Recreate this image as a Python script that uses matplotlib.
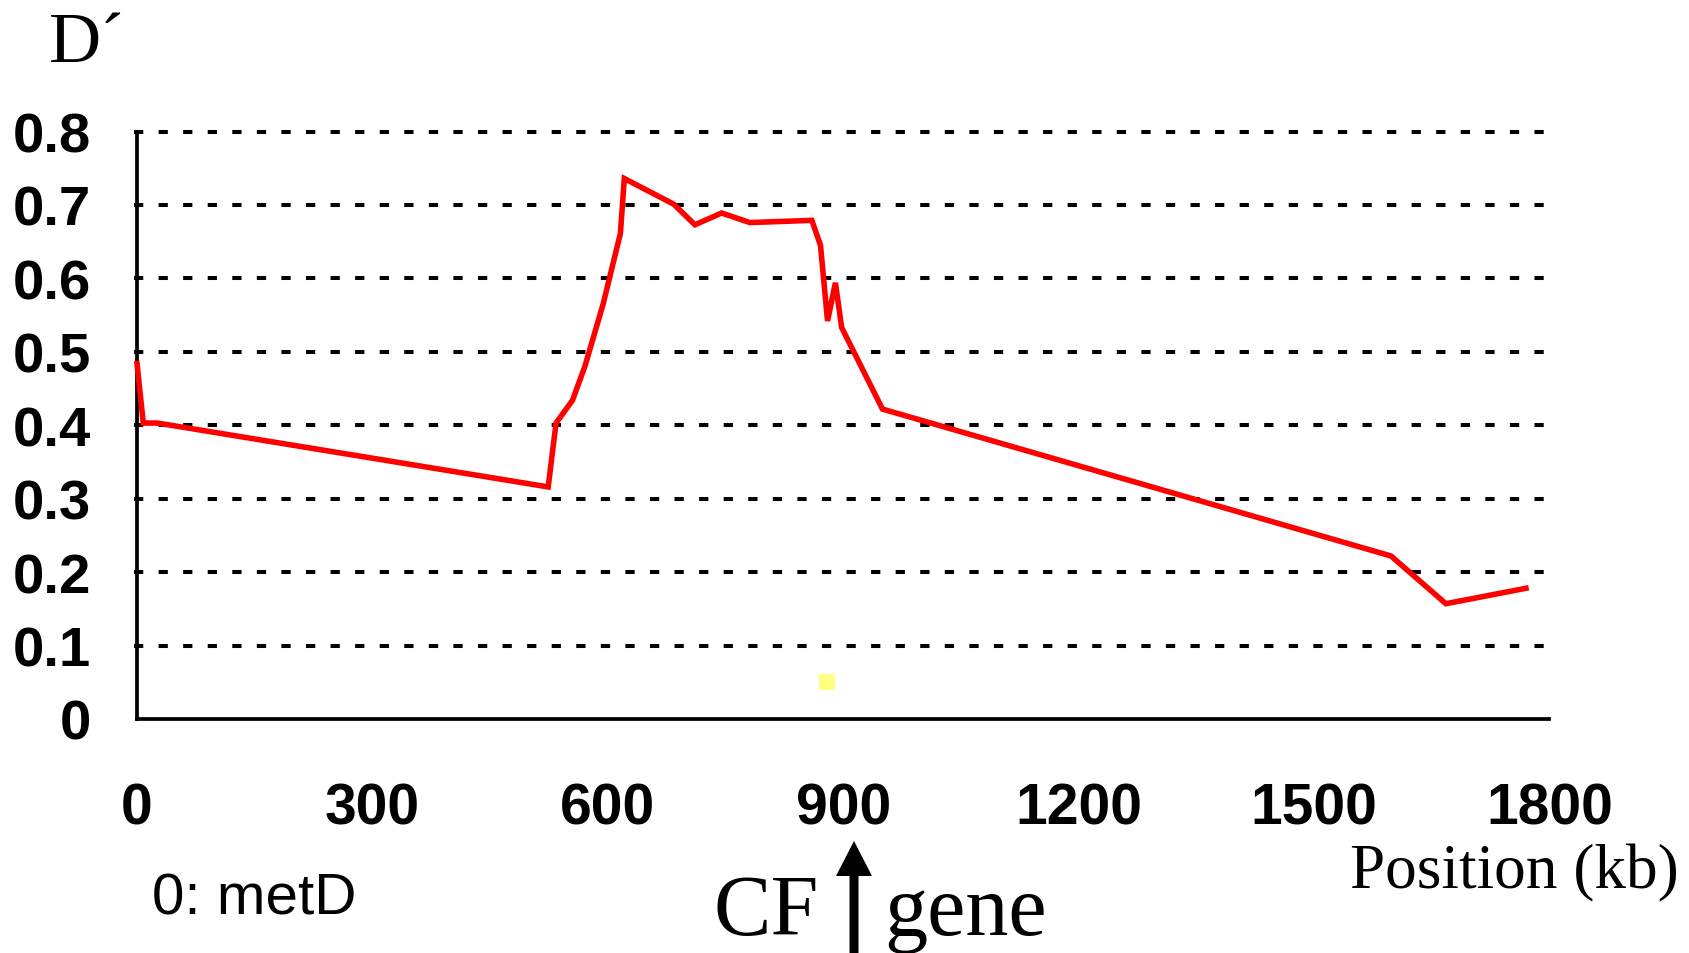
import matplotlib
matplotlib.use("Agg")
import matplotlib.pyplot as plt
from matplotlib.patches import Polygon
from matplotlib.transforms import IdentityTransform

# ---- data ----
position_kb = [0, 8, 26, 524, 534, 555, 571, 594, 616, 621, 684, 711, 745, 781,
               860, 871, 880, 890, 898, 950, 1598, 1668, 1770]
d_prime = [0.484, 0.403, 0.403, 0.316, 0.403, 0.434, 0.481, 0.565, 0.661, 0.736,
           0.701, 0.673, 0.689, 0.676, 0.679, 0.645, 0.542, 0.594, 0.533, 0.422,
           0.222, 0.157, 0.178]
marker_x = [879]
marker_y = [0.050]
x_ticks = [0, 300, 600, 900, 1200, 1500, 1800]
x_tick_labels = ["0", "300", "600", "900", "1200", "1500", "1800"]
y_ticks = [0, 0.1, 0.2, 0.3, 0.4, 0.5, 0.6, 0.7, 0.8]
y_tick_labels = ["0", "0.1", "0.2", "0.3", "0.4", "0.5", "0.6", "0.7", "0.8"]

W, H = 1690, 954
fig = plt.figure(figsize=(W / 100, H / 100), dpi=100)
ax = fig.add_axes([137 / W, 1 - 720 / H, (1549.5 - 137) / W, (720 - 132.5) / H])

ax.set_xlim(0, 1800)
ax.set_ylim(0, 0.8)

# dashed horizontal gridlines
for yv in y_ticks[1:]:
    ax.axhline(yv, xmin=-0.002, xmax=1.0, color="black", lw=2.9,
               linestyle=(0, (2.3, 3.8)), clip_on=False, zorder=1)

ax.plot(position_kb, d_prime, color="#ff0000", lw=4.0, zorder=3,
        solid_joinstyle="miter", clip_on=False)
ax.plot(marker_x, marker_y, marker="s", linestyle="none", markersize=11.5,
        color="#ffff80", markeredgewidth=0, zorder=2)

for s in ["top", "right"]:
    ax.spines[s].set_visible(False)
for s in ["left", "bottom"]:
    ax.spines[s].set_linewidth(2.7)
    ax.spines[s].set_color("black")

ax.set_xticks(x_ticks)
ax.set_xticklabels(x_tick_labels, fontfamily="Liberation Sans", fontweight="bold",
                   fontsize=41)
ax.set_yticks(y_ticks)
ax.set_yticklabels(y_tick_labels, fontfamily="Liberation Sans", fontweight="bold",
                   fontsize=40.5)
ax.tick_params(axis="x", length=0, pad=45)
ax.tick_params(axis="y", length=0, pad=33)

def ftext(x, y, s, **kw):
    fig.text(x / W, 1 - y / H, s, **kw)

ftext(49, 62, "D\u00b4", fontfamily="Liberation Serif", fontsize=52, va="baseline", ha="left")
ftext(1350, 888, "Position (kb)", fontfamily="Liberation Serif", fontsize=45.5,
      va="baseline", ha="left")
ftext(152, 915, "0: metD", fontfamily="Liberation Sans", fontsize=42,
      va="baseline", ha="left")
ftext(819, 935, "CF", fontfamily="Liberation Serif", fontsize=62, va="baseline", ha="right")
ftext(884, 935, "gene", fontfamily="Liberation Serif", fontsize=62, va="baseline", ha="left")

# arrow (pixel coordinates, origin bottom-left)
cx = 854
tip = H - 842
base = H - 877
bottom = -5
hw = 18
sw = 4.5
pts = [(cx, tip), (cx + hw, base), (cx + sw, base), (cx + sw, bottom),
       (cx - sw, bottom), (cx - sw, base), (cx - hw, base)]
arrow = Polygon(pts, closed=True, facecolor="black", edgecolor="none",
                transform=IdentityTransform())
fig.patches.append(arrow)

fig.savefig("out.png", dpi=100)
